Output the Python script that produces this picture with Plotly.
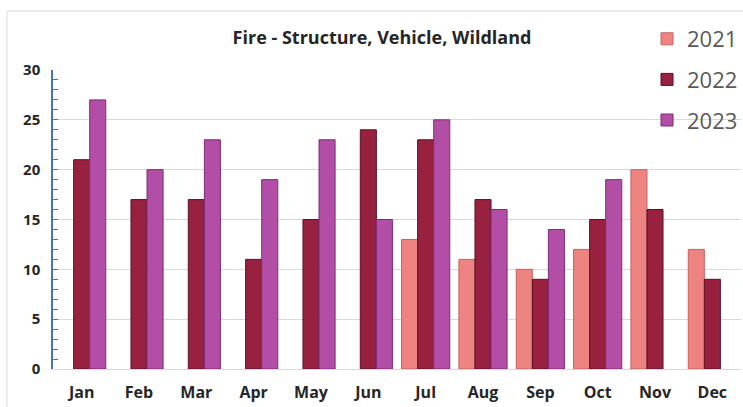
import plotly.graph_objects as go

months = ["Jan", "Feb", "Mar", "Apr", "May", "Jun", "Jul", "Aug", "Sep", "Oct", "Nov", "Dec"]
y2021 = [None, None, None, None, None, None, 13, 11, 10, 12, 20, 12]
y2022 = [21, 17, 17, 11, 15, 24, 23, 17, 9, 15, 16, 9]
y2023 = [27, 20, 23, 19, 23, 15, 25, 16, 14, 19, None, None]
series_names = ["2021", "2022", "2023"]
colors = ["#EE8482", "#97213F", "#B24EA6"]
edge_colors = ["#C65F60", "#5E1027", "#7E2A78"]

fig = go.Figure()
for name, vals, c, ec in zip(series_names, [y2021, y2022, y2023], colors, edge_colors):
    fig.add_trace(go.Bar(
        x=months, y=vals, name=name, legendgroup=name,
        marker=dict(color=c, line=dict(color=ec, width=1)),
    ))

W, H = 743, 407
L, R, T, B = 53, 2, 70, 38
pw, ph = W - L - R, H - T - B

fig.update_layout(
    width=W, height=H,
    margin=dict(l=L, r=R, t=T, b=B, autoexpand=False),
    paper_bgcolor="white", plot_bgcolor="white",
    barmode="group", bargap=0.16, bargroupgap=0,
    title=dict(text="<b>Fire - Structure, Vehicle, Wildland</b>",
               x=382 / W, xanchor="center",
               y=1 - 38 / H, yanchor="middle",
               font=dict(family="Open Sans", size=18, color="#262626")),
    font=dict(family="Open Sans", color="#262626"),
    legend=dict(x=(647 - L) / pw, xanchor="left", y=1 + (T - 18) / ph, yanchor="top",
                bgcolor="rgba(0,0,0,0)",
                font=dict(size=22, color="#595959", family="Open Sans"),
                tracegroupgap=9, itemwidth=30, traceorder="grouped"),
    showlegend=True,
)

fig.update_xaxes(
    showgrid=False, showline=True, linecolor="#D9D9D9", linewidth=1,
    ticks="", tickfont=dict(size=16, color="#262626", family="Open Sans"),
    tickprefix="<b>", ticksuffix="</b>", ticklabelstandoff=9,
)
fig.update_yaxes(
    range=[0, 30], dtick=5, showgrid=True, gridcolor="#D9D9D9", gridwidth=1,
    showline=True, linecolor="#4472C4", linewidth=1.5,
    ticks="inside", ticklen=5, tickcolor="#4472C4", tickwidth=1,
    minor=dict(dtick=1, ticks="inside", ticklen=5, tickcolor="#4472C4", tickwidth=1, showgrid=False),
    tickfont=dict(size=15, color="#262626", family="Open Sans"),
    tickprefix="<b>", ticksuffix="</b>",
    ticklabelstandoff=8, zeroline=False,
)

# outer chart frame (left and top edges)
fig.add_shape(type="line", xref="paper", yref="paper",
              x0=(7 - L) / pw, x1=(7 - L) / pw, y0=-B / ph, y1=(T - 11) / ph + 1,
              line=dict(color="#D9D9D9", width=1))
fig.add_shape(type="line", xref="paper", yref="paper",
              x0=(7 - L) / pw, x1=1 + R / pw, y0=(T - 11) / ph + 1, y1=(T - 11) / ph + 1,
              line=dict(color="#D9D9D9", width=1))

fig.write_html("out.html", config={"displayModeBar": False},
               post_script="document.body.style.margin='0';")
